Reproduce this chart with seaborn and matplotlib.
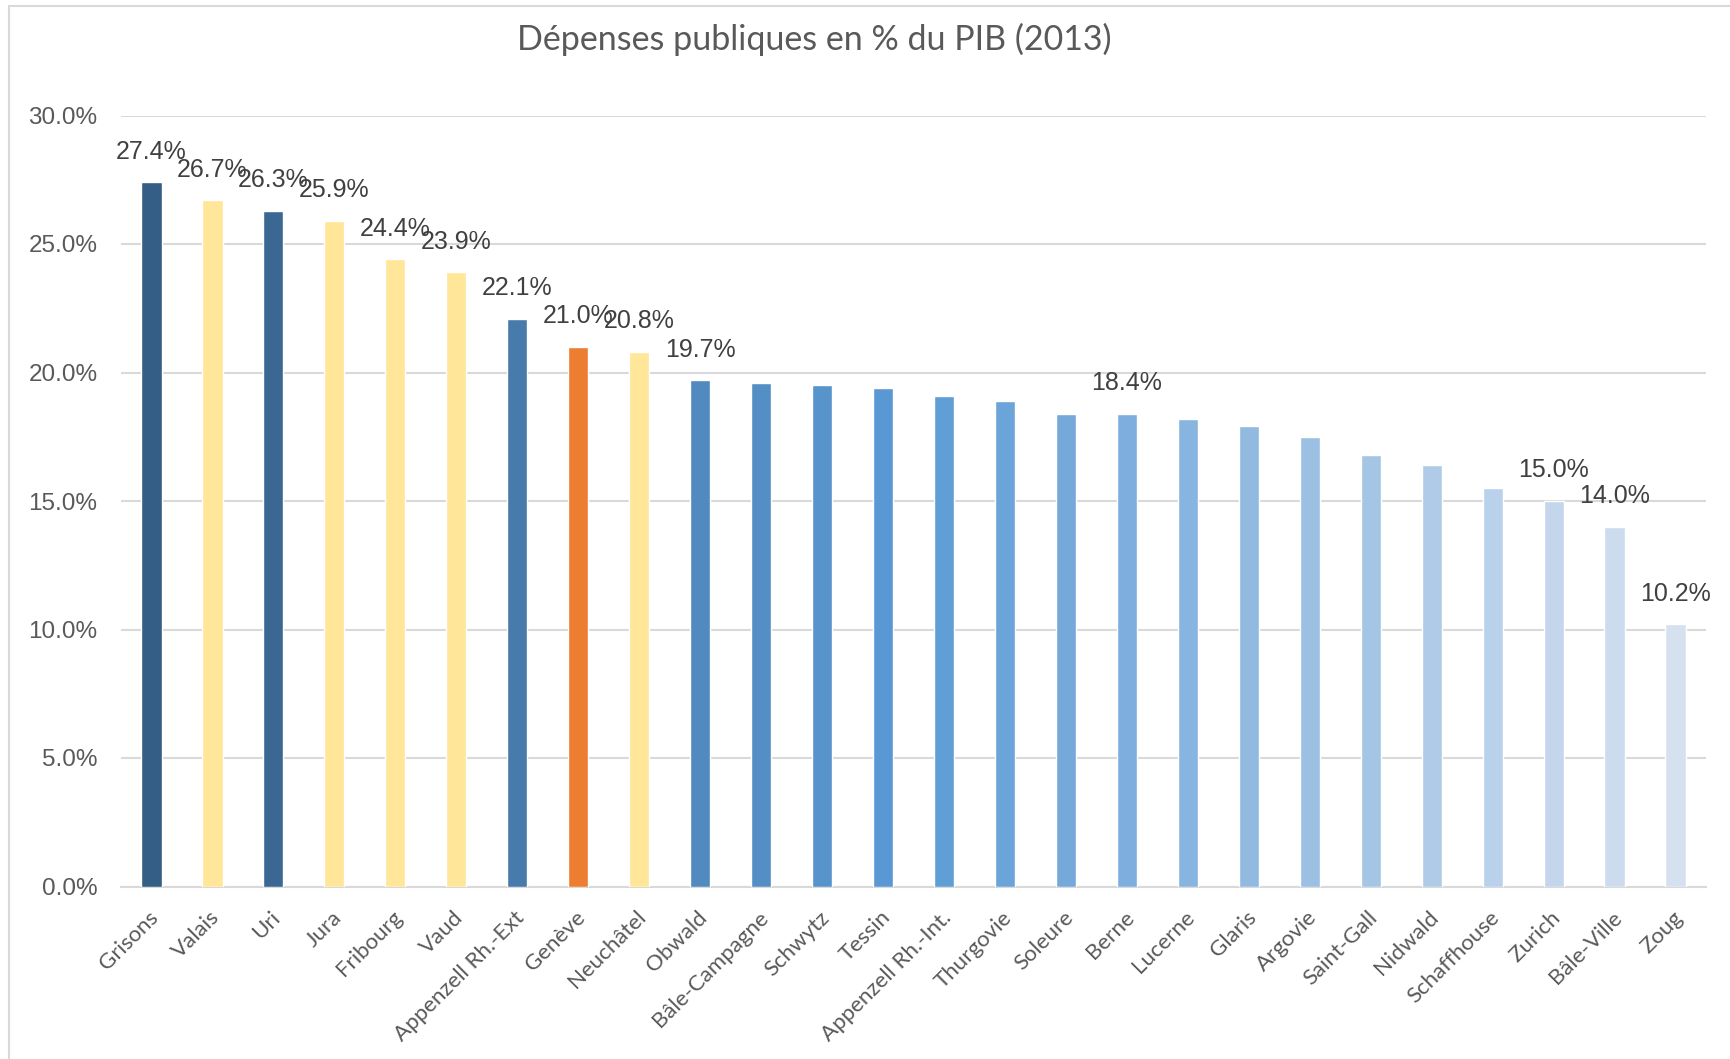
import numpy as np
import matplotlib
matplotlib.use("Agg")
import matplotlib.pyplot as plt
import matplotlib.transforms as mtransforms
import seaborn as sns
from matplotlib.colors import LinearSegmentedColormap, to_hex
from matplotlib.lines import Line2D

# --- data ---
cantons = ["Grisons", "Valais", "Uri", "Jura", "Fribourg", "Vaud", "Appenzell Rh.-Ext",
           "Genève", "Neuchâtel", "Obwald", "Bâle-Campagne", "Schwytz", "Tessin",
           "Appenzell Rh.-Int.", "Thurgovie", "Soleure", "Berne", "Lucerne", "Glaris",
           "Argovie", "Saint-Gall", "Nidwald", "Schaffhouse", "Zurich", "Bâle-Ville", "Zoug"]
depenses = [27.4, 26.7, 26.3, 25.9, 24.4, 23.9, 22.1, 21.0, 20.8, 19.7, 19.6, 19.5, 19.4,
            19.1, 18.9, 18.4, 18.4, 18.2, 17.9, 17.5, 16.8, 16.4, 15.5, 15.0, 14.0, 10.2]
romands = ["Valais", "Jura", "Fribourg", "Vaud", "Neuchâtel"]
geneve = "Genève"
avec_etiquette = ["Grisons", "Valais", "Uri", "Jura", "Fribourg", "Vaud", "Appenzell Rh.-Ext",
                  "Genève", "Neuchâtel", "Obwald", "Berne", "Zurich", "Bâle-Ville", "Zoug"]
yticks = [0, 5, 10, 15, 20, 25, 30]

# --- colours: monochrome blue gradient, overridden for romand cantons / Geneva ---
cmap = LinearSegmentedColormap.from_list("bleus", ["#345e85", "#5b9bd5", "#d6e1f0"])
couleurs = []
for i, c in enumerate(cantons):
    if c == geneve:
        couleurs.append("#ed7d31")
    elif c in romands:
        couleurs.append("#ffe699")
    else:
        couleurs.append(to_hex(cmap(i / (len(cantons) - 1))))

sns.set_theme(style="white")
plt.rcParams["font.family"] = ["Liberation Sans", "DejaVu Sans"]

W, H = 1731, 1059
fig = plt.figure(figsize=(W / 100, H / 100), dpi=100)
ax = fig.add_axes([121 / W, 1 - 886.5 / H, (1706 - 121) / W, (886.5 - 115.5) / H])

sns.barplot(x=cantons, y=depenses, hue=cantons, palette=couleurs, legend=False,
            width=0.33, saturation=1, ax=ax, zorder=3)

ax.set_xlim(-0.5, len(cantons) - 0.5)
ax.set_ylim(0, 30)
ax.set_yticks(yticks)
ax.set_yticklabels([f"{v:.1f}%" for v in yticks], fontsize=17.5, color="#595959")
ax.yaxis.grid(True, color="#d9d9d9", linewidth=1.5, zorder=0)
ax.set_axisbelow(True)
for s in ["top", "right", "left"]:
    ax.spines[s].set_visible(False)
ax.spines["bottom"].set_color("#d9d9d9")
ax.spines["bottom"].set_linewidth(1.5)
ax.tick_params(axis="both", length=0)
ax.tick_params(axis="y", pad=17)
ax.tick_params(axis="x", pad=20)
ax.set_xlabel("")
ax.set_ylabel("")

ax.set_xticks(range(len(cantons)))
ax.set_xticklabels(cantons, rotation=45, ha="right", va="center", rotation_mode="anchor",
                   fontsize=16, color="#595959", family=["Lato", "DejaVu Sans"])
decalage = mtransforms.ScaledTranslation(4 / 100, 0, fig.dpi_scale_trans)
for lab in ax.get_xticklabels():
    lab.set_transform(lab.get_transform() + decalage)

for i, (c, v) in enumerate(zip(cantons, depenses)):
    if c in avec_etiquette:
        ax.annotate(f"{v:.1f}%", (i, v), xytext=(0, 22), textcoords="offset points",
                    ha="center", va="center", fontsize=18, color="#404040")

fig.text(814 / W, 1 - 39 / H, "Dépenses publiques en % du PIB (2013)", ha="center", va="center",
         fontsize=24.5, color="#595959", family=["Lato", "DejaVu Sans"])

# light chart frame (top and left edges visible in the crop)
fig.add_artist(Line2D([9 / W, 9 / W], [0, 1 - 6 / H], color="#d9d9d9", lw=1.5))
fig.add_artist(Line2D([9 / W, 1], [1 - 6 / H, 1 - 6 / H], color="#d9d9d9", lw=1.5))

fig.savefig("out.png", dpi=100)
